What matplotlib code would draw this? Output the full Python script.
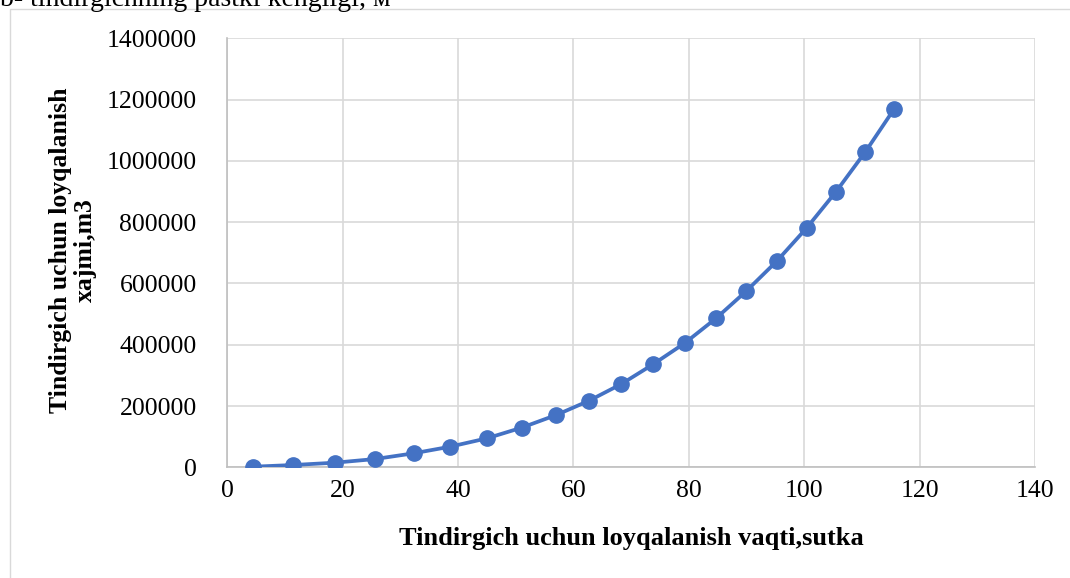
import matplotlib.pyplot as plt
from matplotlib.patches import Rectangle

FIG_SIZE = (10.7, 5.78)

# vaqt (sutka) va loyqalanish xajmi (m3)
vaqt = [4.5, 11.4, 18.6, 25.6, 32.3, 38.6, 45.0, 51.0, 57.0, 62.7,
        68.3, 73.8, 79.3, 84.7, 89.9, 95.2, 100.4, 105.5, 110.6, 115.6]
xajm = [2000, 7500, 15000, 27000, 45700, 67200, 94600, 129200, 170600, 217300,
        271800, 336100, 405500, 486100, 574200, 672100, 780800, 899300, 1029700, 1170000]

x_ticks = [0, 20, 40, 60, 80, 100, 120, 140]
y_ticks = [0, 200000, 400000, 600000, 800000, 1000000, 1200000, 1400000]

plt.rcParams['font.family'] = ['Liberation Serif', 'DejaVu Serif']

fig = plt.figure(figsize=FIG_SIZE, dpi=100)
ax = fig.add_axes([0.2124, 0.1915, 0.7549, 0.7421])

# chart area border
fig.patches.append(Rectangle((10 / 1070, -0.1), 1.2, 1.1 - 9 / 578, transform=fig.transFigure,
                             fill=False, edgecolor='#D9D9D9', linewidth=1))

# partially visible caption above the chart
fig.text(0.0, 1 - 6 / 578, "b- tindirgichning pastki kengligi, м", fontsize=20,
         ha='left', va='baseline')

ax.plot(vaqt, xajm, color='#4472C4', linewidth=2.7, marker='o', markersize=11, zorder=3)

ax.set_xlim(0, 140)
ax.set_ylim(0, 1400000)
ax.set_xticks(x_ticks)
ax.set_yticks(y_ticks)
ax.set_xticklabels([str(t) for t in x_ticks])
ax.set_yticklabels([str(t) for t in y_ticks])
ax.tick_params(length=0, labelsize=18.5)
ax.tick_params(axis='y', pad=22)
ax.tick_params(axis='x', pad=9)

ax.grid(True, color='#D9D9D9', linewidth=1.2)
ax.set_axisbelow(True)
for s in ['top', 'right']:
    ax.spines[s].set_visible(False)
for s in ['left', 'bottom']:
    ax.spines[s].set_color('#BFBFBF')
    ax.spines[s].set_linewidth(1.2)

ax.set_xlabel("Tindirgich uchun loyqalanish vaqti,sutka", fontsize=19, fontweight='bold', labelpad=18)
fig.text(73 / 1070, 1 - 250 / 578, "Tindirgich uchun loyqalanish\nxajmi,m3", fontsize=18.5,
         fontweight='bold', rotation=90, ha='center', va='center', multialignment='center',
         linespacing=1.15)

plt.savefig('out.png', dpi=100)
